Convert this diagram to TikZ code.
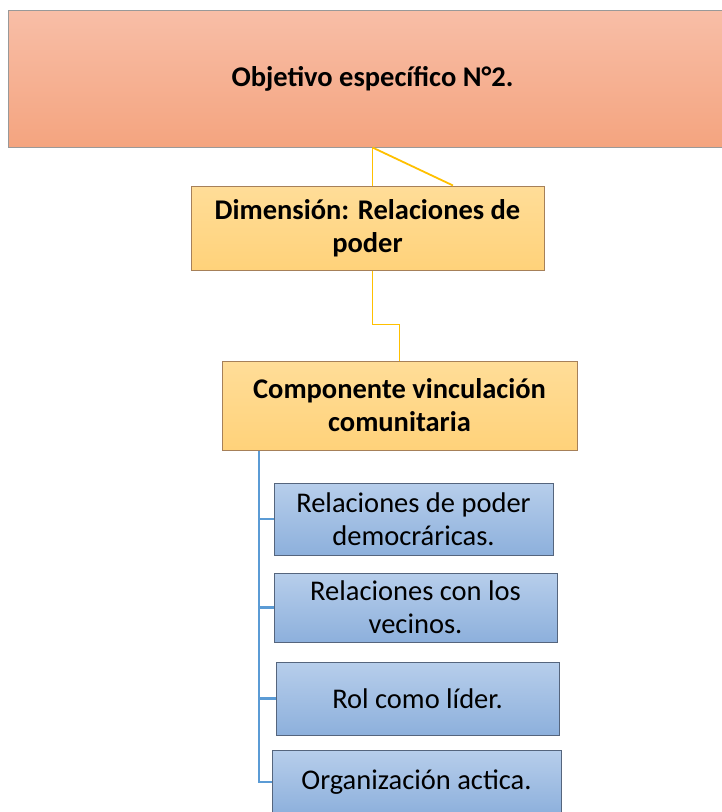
\documentclass[tikz,border=0pt]{standalone}
\usepackage{fontspec}
\setmainfont{Carlito}
\definecolor{salmontop}{HTML}{F8BEA7}
\definecolor{salmonbot}{HTML}{F4A47F}
\definecolor{goldtop}{HTML}{FFDD98}
\definecolor{goldbot}{HTML}{FFD27A}
\definecolor{bluetop}{HTML}{B7CEEB}
\definecolor{bluebot}{HTML}{8DB0DC}
\definecolor{goldline}{HTML}{FFC000}
\definecolor{blueline}{HTML}{5B9BD5}
\definecolor{slateedge}{HTML}{55657D}
\tikzset{
  card/.style={rectangle, inner sep=0pt, align=center, line width=1pt, font=\fontsize{28.5}{33}\selectfont},
  objcard/.style={card, draw=gray!80, top color=salmontop, bottom color=salmonbot, font=\fontsize{28.5}{33}\selectfont\bfseries},
  dimcard/.style={card, draw=brown!60!gray, top color=goldtop, bottom color=goldbot, font=\fontsize{28.5}{33}\selectfont\bfseries},
  itemcard/.style={card, draw=slateedge, top color=bluetop, bottom color=bluebot},
  goldlink/.style={draw=goldline, line width=1.8pt},
  bluelink/.style={draw=blueline, line width=2.4pt}
}
\begin{document}
\begin{tikzpicture}[x=1pt,y=1pt]
\useasboundingbox (0,0) rectangle (721,-812);

\node[objcard, minimum width=729, minimum height=137] (obj) at (372.5,-78.5) {Objetivo específico N°2.};
\node[dimcard, minimum width=353, minimum height=84] (dim) at (367.5,-228) {Dimensión: Relaciones de\\poder};
\node[dimcard, minimum width=355, minimum height=89] (comp) at (399.5,-405.5) {Componente vinculación\\comunitaria};

\node[itemcard, minimum width=279, minimum height=72] (rel) at (413.5,-519) {Relaciones de poder\\democráricas.};
\node[itemcard, minimum width=283, minimum height=69] (vec) at (415.5,-607.5) {Relaciones con los\\vecinos.};
\node[itemcard, minimum width=283, minimum height=73] (rol) at (417.5,-698.5) {Rol como líder.};
\node[itemcard, minimum width=289, minimum height=64] (org) at (416.5,-782) {Organización actica.};

% objetivo -> dimension
\draw[goldlink] (obj.south) -- (obj.south |- dim.north);
\draw[goldlink] (obj.south) -- ([xshift=85.5]dim.north);
% dimension -> componente
\draw[goldlink] (obj.south |- dim.south) -- ++(0,-54) -| (comp.north);

% componente -> items
\coordinate (trunk) at ([xshift=-140.5]comp.south);
\draw[bluelink] (trunk) |- (org.west);
\foreach \item in {rel,vec,rol}
  \draw[bluelink] (trunk |- \item.west) -- (\item.west);
\end{tikzpicture}
\end{document}
